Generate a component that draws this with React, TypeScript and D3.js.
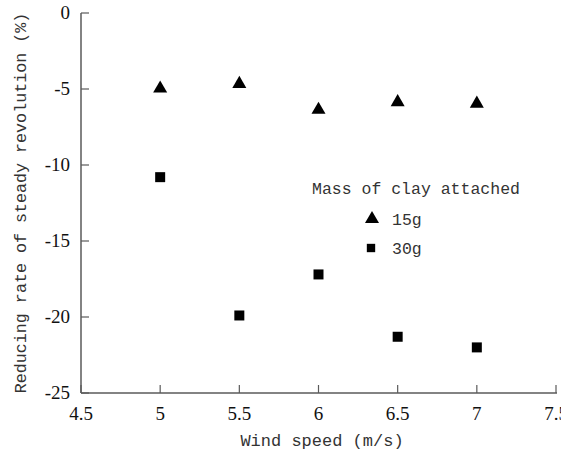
import React from "react";
import * as d3 from "d3";

const windSpeeds = [5, 5.5, 6, 6.5, 7];
const clay15g = [-4.9, -4.6, -6.3, -5.8, -5.9];
const clay30g = [-10.8, -19.9, -17.2, -21.3, -22.0];
const xTicks = [4.5, 5, 5.5, 6, 6.5, 7, 7.5];
const yTicks = [0, -5, -10, -15, -20, -25];
const seriesNames = ["15g", "30g"];
const legendTitle = "Mass of clay attached";
const xTitle = "Wind speed (m/s)";
const yTitle = "Reducing rate of steady revolution (%)";

const W = 561;
const H = 453;
const L = 81, R = 556, T = 13, B = 393;

export default function App() {
  const x = d3.scaleLinear().domain([4.5, 7.5]).range([L, R]);
  const y = d3.scaleLinear().domain([-25, 0]).range([B, T]);
  const tri = d3.symbol().type(d3.symbolTriangle).size(85)() as string;
  const sq = d3.symbol().type(d3.symbolSquare).size(100)() as string;
  const axisColor = "#5a5a5a";
  const mono = { fontFamily: "'Liberation Mono', 'Courier New', monospace" };
  const serif = { fontFamily: "'Liberation Serif', 'Times New Roman', serif" };
  return (
    <svg width={W} height={H} style={{ position: "absolute", left: 0, top: 0, background: "#fff" }}>
      <rect width={W} height={H} fill="#fff" />
      <line x1={L} x2={L} y1={T} y2={B} stroke={axisColor} strokeWidth={1.5} />
      <line x1={L} x2={R + 1} y1={B} y2={B} stroke={axisColor} strokeWidth={1.5} />
      {yTicks.map((t) => (
        <g key={"y" + t}>
          <line x1={L} x2={L + 8} y1={y(t)} y2={y(t)} stroke={axisColor} strokeWidth={1.2} />
          <text x={70} y={y(t) + 6} textAnchor="end" style={serif} fontSize={19} fill="#111">
            {t === 0 ? "0" : "-" + Math.abs(t)}
          </text>
        </g>
      ))}
      {xTicks.map((t) => (
        <g key={"x" + t}>
          <line x1={x(t)} x2={x(t)} y1={B} y2={B - 8} stroke={axisColor} strokeWidth={1.2} />
          <text x={x(t)} y={420} textAnchor="middle" style={serif} fontSize={19} fill="#111">
            {String(t)}
          </text>
        </g>
      ))}
      <text x={322} y={446} textAnchor="middle" style={mono} fontSize={17} fill="#333">
        {xTitle}
      </text>
      <text
        transform={`translate(26,203) rotate(-90)`}
        textAnchor="middle"
        style={mono}
        fontSize={16.7}
        fill="#333"
      >
        {yTitle}
      </text>
      {windSpeeds.map((w, i) => (
        <path key={"a" + i} d={tri} transform={`translate(${x(w)},${y(clay15g[i]) + 1})`} fill="#000" />
      ))}
      {windSpeeds.map((w, i) => (
        <path key={"b" + i} d={sq} transform={`translate(${x(w)},${y(clay30g[i])})`} fill="#000" />
      ))}
      <text x={312} y={194} style={mono} fontSize={16.5} fill="#333">{legendTitle}</text>
      <path d={tri} transform="translate(372,219)" fill="#000" />
      <text x={392} y={225} style={mono} fontSize={16.5} fill="#333">{seriesNames[0]}</text>
      <path d={d3.symbol().type(d3.symbolSquare).size(70)() as string} transform="translate(371,248)" fill="#000" />
      <text x={392} y={254} style={mono} fontSize={16.5} fill="#333">{seriesNames[1]}</text>
    </svg>
  );
}
